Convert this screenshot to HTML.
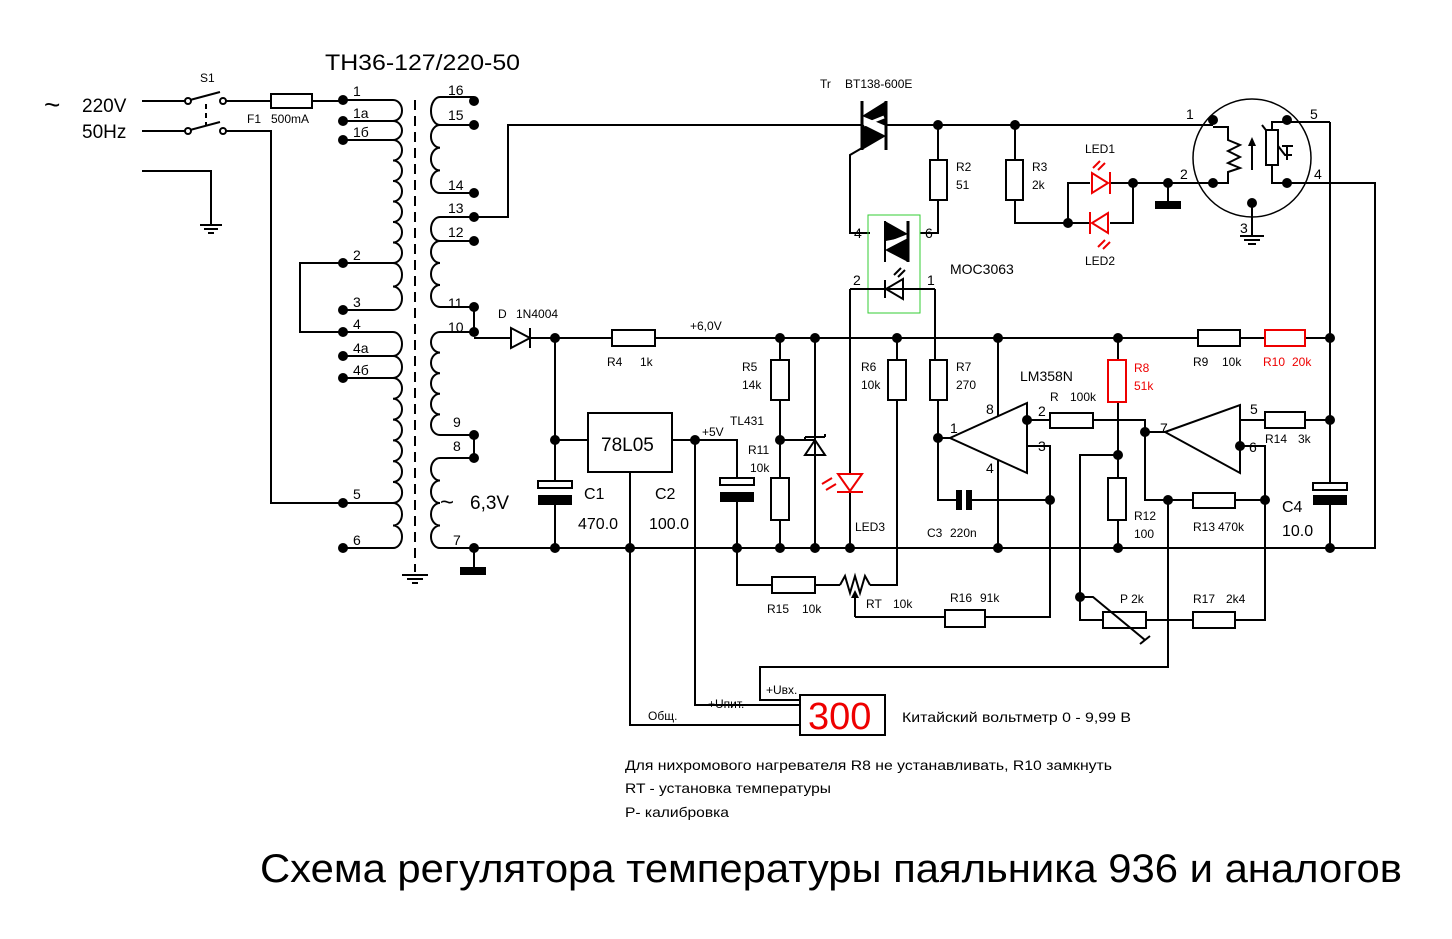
<!DOCTYPE html>
<html><head><meta charset="utf-8"><style>
html,body{margin:0;padding:0;background:#fff;}
svg{display:block;font-family:"Liberation Sans","Noto Sans CJK SC",sans-serif;}
.w{stroke:#000;stroke-width:2;fill:none}
.r{stroke:#000;stroke-width:2;fill:#fff}
.rr{stroke:#e00;stroke-width:2;fill:#fff}
.s{font-size:12px}
.m{font-size:14px}
.red{fill:#e00}
</style></head><body>
<svg width="1452" height="939" viewBox="0 0 1452 939" xmlns="http://www.w3.org/2000/svg">
<rect width="1452" height="939" fill="#fff"/>
<text x="325" y="70" font-size="22" textLength="195" lengthAdjust="spacingAndGlyphs">TH36-127/220-50</text>
<text x="44" y="114" font-size="28">~</text>
<text x="82" y="112" font-size="19">220V</text>
<text x="82" y="138" font-size="19">50Hz</text>
<text x="200" y="82" class="s">S1</text>
<path class="w" d="M142,101H185 M142,131H185 M226,101H271 M312,101H343 M226,131H271V503H343"/>
<circle cx="188" cy="101" r="3" class="r"/><circle cx="223" cy="101" r="3" class="r"/>
<circle cx="188" cy="131" r="3" class="r"/><circle cx="223" cy="131" r="3" class="r"/>
<path class="w" d="M190,100L220,92 M190,130L220,122"/>
<path d="M206,104V126" stroke="#000" stroke-width="2" stroke-dasharray="5,4"/>
<rect x="271" y="94" width="41" height="14" class="r"/>
<text x="247" y="123" class="s">F1</text><text x="271" y="123" class="s">500mA</text>
<path class="w" d="M142,171H211V225"/>
<path class="w" d="M200,225H222 M204,229H218 M208,233H214"/>
<path d="M415,100V572" stroke="#000" stroke-width="2" stroke-dasharray="10,6"/>
<path class="w" d="M402,575H428 M407,579H423 M412,583H418"/>
<path class="w" d="M343,100H393 M343,121H393 M343,140H393 M343,263H393 M343,310H393 M343,332H393 M343,356H393 M343,378H393 M343,503H393 M343,548H393"/>
<path class="w" d="M393,100a9,10.5 0 0 1 0,21 a9,9.5 0 0 1 0,19
a9,10.25 0 0 1 0,20.5 a9,10.25 0 0 1 0,20.5 a9,10.25 0 0 1 0,20.5 a9,10.25 0 0 1 0,20.5 a9,10.25 0 0 1 0,20.5 a9,10.25 0 0 1 0,20.5
a9,11.75 0 0 1 0,23.5 a9,11.75 0 0 1 0,23.5
M393,332 a9,12 0 0 1 0,24 a9,11 0 0 1 0,22
a9,10.4 0 0 1 0,20.8 a9,10.4 0 0 1 0,20.8 a9,10.4 0 0 1 0,20.8 a9,10.4 0 0 1 0,20.8 a9,10.4 0 0 1 0,20.8 a9,10.4 0 0 1 0,21
a9,11.25 0 0 1 0,22.5 a9,11.25 0 0 1 0,22.5"/>
<path class="w" d="M440,97H474 M440,125H474 M440,193H474 M440,217H474 M440,241H474 M440,307H474 M440,332H474 M440,435H474 M440,458H474 M440,548H474"/>
<path class="w" d="M440,97a9,14 0 0 0 0,28 a9,11.3 0 0 0 0,22.7 a9,11.3 0 0 0 0,22.7 a9,11.3 0 0 0 0,22.6
M440,217 a9,12 0 0 0 0,24 a9,11 0 0 0 0,22 a9,11 0 0 0 0,22 a9,11 0 0 0 0,22
M440,332 a9,10.3 0 0 0 0,20.6 a9,10.3 0 0 0 0,20.6 a9,10.3 0 0 0 0,20.6 a9,10.3 0 0 0 0,20.6 a9,10.3 0 0 0 0,20.6
M440,458 a9,11.25 0 0 0 0,22.5 a9,11.25 0 0 0 0,22.5 a9,11.25 0 0 0 0,22.5 a9,11.25 0 0 0 0,22.5"/>
<path class="w" d="M474,307V332 M474,435V458 M474,548V568"/>
<rect x="460" y="567" width="26" height="8" fill="#000"/>
<g fill="#000">
<circle cx="343" cy="100" r="5"/><circle cx="343" cy="121" r="5"/><circle cx="343" cy="140" r="5"/><circle cx="343" cy="263" r="5"/><circle cx="343" cy="310" r="5"/><circle cx="343" cy="332" r="5"/><circle cx="343" cy="356" r="5"/><circle cx="343" cy="378" r="5"/><circle cx="343" cy="503" r="5"/><circle cx="343" cy="548" r="5"/>
<circle cx="474" cy="101" r="5"/><circle cx="474" cy="125" r="5"/><circle cx="474" cy="193" r="5"/><circle cx="474" cy="217" r="5"/><circle cx="474" cy="241" r="5"/><circle cx="474" cy="307" r="5"/><circle cx="474" cy="332" r="5"/><circle cx="474" cy="435" r="5"/><circle cx="474" cy="458" r="5"/><circle cx="474" cy="548" r="5"/>
</g>
<path class="w" d="M343,263H300V332H343"/>
<g class="m">
<text x="353" y="96">1</text><text x="353" y="118">1a</text><text x="353" y="137">1б</text><text x="353" y="260">2</text><text x="353" y="307">3</text><text x="353" y="329">4</text><text x="353" y="353">4a</text><text x="353" y="375">4б</text><text x="353" y="499">5</text><text x="353" y="545">6</text>
<text x="448" y="95">16</text><text x="448" y="120">15</text><text x="448" y="190">14</text><text x="448" y="213">13</text><text x="448" y="237">12</text><text x="448" y="308">11</text><text x="448" y="332">10</text><text x="453" y="427">9</text><text x="453" y="451">8</text><text x="453" y="545">7</text>
</g>
<text x="440" y="510" font-size="24">~</text>
<text x="470" y="509" font-size="19">6,3V</text>
<path class="w" d="M474,217H508V125H862 M886,125H1213"/>
<text x="820" y="88" class="s">Tr</text><text x="845" y="88" class="s">BT138-600E</text>
<path d="M862,101V150 M886,101V150" stroke="#000" stroke-width="3"/>
<path d="M886,101L886,126L862,116Z M862,124L862,150L886,136Z" fill="#000"/>
<path d="M864,125L884,117" stroke="#fff" stroke-width="3"/>
<path class="w" d="M862,148L850,155V233H870 M938,125V160 M938,200V233H920"/>
<rect x="930" y="160" width="17" height="40" class="r"/>
<text x="956" y="171" class="s">R2</text><text x="956" y="189" class="s">51</text>
<rect x="868" y="215" width="52" height="98" fill="none" stroke="#3c3" stroke-width="1"/>
<path d="M908,221V262" stroke="#000" stroke-width="3"/>
<path d="M885,221L908,234L885,243Z M908,238L885,250L908,262Z" fill="#000"/>
<path d="M886,242L906,238" stroke="#fff" stroke-width="2"/>
<path d="M885,221V262" stroke="#000" stroke-width="2"/>
<path class="w" d="M894,275L901,268 M898,277L905,270"/>
<path class="w" d="M850,289H935 M885,280V298"/>
<path class="w" d="M903,279L903,299L886,289Z"/>
<text x="854" y="238" class="m">4</text><text x="925" y="238" class="m">6</text>
<text x="853" y="285" class="m">2</text><text x="927" y="285" class="m">1</text>
<text x="950" y="274" font-size="14">MOC3063</text>
<path class="w" d="M474,338H510 M530,338H612 M655,338H1198 M1240,338H1265 M1305,338H1330"/>
<path class="w" d="M511,328V348L530,338Z M530,328V348"/>
<text x="498" y="318" class="s">D</text><text x="516" y="318" class="s">1N4004</text>
<rect x="612" y="330" width="43" height="16" class="r"/>
<text x="607" y="366" class="s">R4</text><text x="640" y="366" class="s">1k</text>
<text x="690" y="330" class="s">+6,0V</text>
<path class="w" d="M555,338V481 M555,505V548 M555,440H588"/>
<rect x="538" y="481" width="34" height="7" class="r"/>
<rect x="538" y="495" width="34" height="10" fill="#000"/>
<rect x="588" y="413" width="84" height="59" class="r"/>
<text x="601" y="451" font-size="19">78L05</text>
<path class="w" d="M672,440H737V478 M737,502V548 M695,440V705H800 M630,472V725H800"/>
<rect x="720" y="478" width="34" height="7" class="r"/>
<rect x="720" y="492" width="34" height="10" fill="#000"/>
<text x="702" y="436" class="s">+5V</text>
<text x="584" y="499" font-size="16">C1</text><text x="578" y="529" font-size="16">470.0</text>
<text x="655" y="499" font-size="16">C2</text><text x="649" y="529" font-size="16">100.0</text>
<path class="w" d="M474,548H1375V183H1287"/>
<path class="w" d="M780,338V360 M780,400V478 M780,520V548 M780,440H815 M815,338V548"/>
<rect x="771" y="360" width="18" height="40" class="r"/>
<rect x="771" y="478" width="18" height="42" class="r"/>
<path class="w" d="M805,455H825L815,440Z M805,437H825 M805,437V440 M825,437V434"/>
<text x="742" y="371" class="s">R5</text><text x="742" y="389" class="s">14k</text>
<text x="730" y="425" class="s">TL431</text>
<text x="748" y="454" class="s">R11</text><text x="750" y="472" class="s">10k</text>
<path class="w" d="M850,289V473 M850,492V548"/>
<path d="M838,474H862L850,491Z" fill="#fff" stroke="#e00" stroke-width="2"/>
<path d="M837,492H863" stroke="#e00" stroke-width="2"/>
<path d="M822,484L832,478 M826,490L836,484" stroke="#e00" stroke-width="2"/>
<text x="855" y="531" class="s">LED3</text>
<path class="w" d="M897,338V360 M897,400V585H870 M840,585H815 M772,585H737V548"/>
<rect x="888" y="360" width="18" height="40" class="r"/>
<text x="861" y="371" class="s">R6</text><text x="861" y="389" class="s">10k</text>
<rect x="772" y="577" width="43" height="16" class="r"/>
<path class="w" d="M840,585L845,576L850,593L855,576L860,593L865,576L870,585"/>
<path class="w" d="M855,617V593"/><path d="M851,598L855,590L859,598Z" fill="#000"/>
<path class="w" d="M855,617H945 M985,617H1050V446H1027"/>
<rect x="945" y="610" width="40" height="17" class="r"/>
<text x="767" y="613" class="s">R15</text><text x="802" y="613" class="s">10k</text>
<text x="866" y="608" class="s">RT</text><text x="893" y="608" class="s">10k</text>
<text x="950" y="602" class="s">R16</text><text x="980" y="602" class="s">91k</text>
<path class="w" d="M935,289V360 M938,400V500H958 M970,500H1050"/>
<rect x="930" y="360" width="17" height="40" class="r"/>
<rect x="956" y="490" width="6" height="20" fill="#000"/><rect x="966" y="490" width="6" height="20" fill="#000"/>
<text x="956" y="371" class="s">R7</text><text x="956" y="389" class="s">270</text>
<text x="927" y="537" class="s">C3</text><text x="950" y="537" class="s">220n</text>
<path class="w" d="M1027,403V473L950,438Z M938,438H950 M998,338V416 M998,460V548 M1027,420H1050 M1093,420H1145V500H1193 M1235,500H1265"/>
<rect x="1050" y="413" width="43" height="15" class="r"/>
<text x="1020" y="381" font-size="14">LM358N</text>
<text x="1050" y="401" class="s">R</text><text x="1070" y="401" class="s">100k</text>
<text x="986" y="414" class="m">8</text><text x="950" y="433" class="m">1</text><text x="986" y="473" class="m">4</text><text x="1038" y="416" class="m">2</text><text x="1038" y="451" class="m">3</text>
<path class="w" d="M1118,338V360 M1118,402V478 M1118,520V548 M1118,455H1080V620H1103 M1146,620H1193 M1235,620H1265V446H1240"/>
<rect x="1108" y="360" width="18" height="42" class="rr"/>
<rect x="1108" y="478" width="18" height="42" class="r"/>
<text x="1134" y="372" class="s red">R8</text><text x="1134" y="390" class="s red">51k</text>
<text x="1134" y="520" class="s">R12</text><text x="1134" y="538" class="s">100</text>
<rect x="1103" y="612" width="43" height="16" class="r"/>
<path class="w" d="M1080,597H1093L1145,640 M1140,644L1150,636"/>
<rect x="1193" y="612" width="42" height="16" class="r"/>
<text x="1120" y="603" class="s">P 2k</text>
<text x="1193" y="603" class="s">R17</text><text x="1226" y="603" class="s">2k4</text>
<path class="w" d="M1240,405V473L1165,432Z M1145,432H1165 M1240,420H1265 M1305,420H1330"/>
<rect x="1265" y="412" width="40" height="16" class="r"/>
<rect x="1193" y="493" width="42" height="15" class="r"/>
<text x="1250" y="414" class="m">5</text><text x="1249" y="452" class="m">6</text><text x="1160" y="433" class="m">7</text>
<text x="1265" y="443" class="s">R14</text><text x="1298" y="443" class="s">3k</text>
<text x="1193" y="531" class="s">R13</text><text x="1218" y="531" class="s">470k</text>
<rect x="1198" y="330" width="42" height="16" class="r"/>
<rect x="1265" y="330" width="40" height="16" class="rr"/>
<text x="1193" y="366" class="s">R9</text><text x="1222" y="366" class="s">10k</text>
<text x="1263" y="366" class="s red">R10</text><text x="1292" y="366" class="s red">20k</text>
<path class="w" d="M1330,122V483 M1330,505V548 M1287,122H1330"/>
<rect x="1313" y="483" width="34" height="7" class="r"/>
<rect x="1313" y="495" width="34" height="10" fill="#000"/>
<text x="1282" y="512" font-size="16">C4</text><text x="1282" y="536" font-size="16">10.0</text>
<path class="w" d="M1168,500V667H760V700H800"/>
<rect x="800" y="695" width="85" height="40" class="r"/>
<text x="808" y="729" font-size="38" class="red">300</text>
<text x="766" y="694" class="s">+Uвх.</text>
<text x="708" y="708" class="s">+Uпит.</text>
<text x="648" y="720" class="s">Общ.</text>
<text x="902" y="722" font-size="14" textLength="229" lengthAdjust="spacingAndGlyphs">Китайский вольтметр 0 - 9,99 В</text>
<path class="w" d="M1015,125V160 M1015,200V223H1090 M1110,223H1133V183 M1068,223V183H1090 M1110,183H1213 M1168,183V201"/>
<rect x="1006" y="160" width="17" height="40" class="r"/>
<text x="1032" y="171" class="s">R3</text><text x="1032" y="189" class="s">2k</text>
<rect x="1155" y="201" width="26" height="8" fill="#000"/>
<path d="M1092,173V193L1108,183Z M1110,172V194" stroke="#e00" stroke-width="2" fill="#fff"/>
<path d="M1108,213V233L1092,223Z M1090,212V234" stroke="#e00" stroke-width="2" fill="#fff"/>
<path d="M1093,168L1100,161 M1098,170L1105,163 M1098,247L1105,240 M1103,249L1110,242" stroke="#e00" stroke-width="2"/>
<text x="1085" y="153" class="s">LED1</text><text x="1085" y="265" class="s">LED2</text>
<circle cx="1252" cy="158" r="59" fill="none" stroke="#000" stroke-width="1.5"/>
<path class="w" d="M1213,127H1228V140L1240,145L1228,151L1240,157L1228,163L1240,168L1228,172V183H1213"/>
<path class="w" d="M1252,170V142"/><path d="M1248,146L1252,137L1256,146Z" fill="#000"/>
<path class="w" d="M1287,122H1272V130 M1272,165V183H1287 M1262,125L1285,155H1292"/>
<rect x="1266" y="130" width="12" height="35" class="r"/>
<path class="w" d="M1282,146H1293 M1287,146V160"/>
<path class="w" d="M1252,203V236 M1240,236H1264 M1244,240H1260 M1248,244H1256"/>
<g fill="#000">
<circle cx="1213" cy="120" r="5"/><circle cx="1213" cy="183" r="5"/><circle cx="1287" cy="120" r="5"/><circle cx="1287" cy="183" r="5"/><circle cx="1252" cy="203" r="5"/>
</g>
<text x="1186" y="119" class="m">1</text><text x="1180" y="179" class="m">2</text><text x="1240" y="233" class="m">3</text><text x="1310" y="119" class="m">5</text><text x="1314" y="179" class="m">4</text>
<g fill="#000">
<circle cx="938" cy="125" r="5"/><circle cx="1015" cy="125" r="5"/>
<circle cx="1068" cy="223" r="5"/><circle cx="1133" cy="183" r="5"/><circle cx="1168" cy="183" r="5"/>
<circle cx="555" cy="338" r="5"/><circle cx="780" cy="338" r="5"/><circle cx="815" cy="338" r="5"/><circle cx="897" cy="338" r="5"/><circle cx="998" cy="338" r="5"/><circle cx="1118" cy="338" r="5"/><circle cx="1330" cy="338" r="5"/>
<circle cx="555" cy="440" r="5"/><circle cx="695" cy="440" r="5"/><circle cx="780" cy="440" r="5"/><circle cx="938" cy="438" r="5"/>
<circle cx="1027" cy="420" r="5"/><circle cx="1145" cy="432" r="5"/><circle cx="1240" cy="446" r="5"/><circle cx="1330" cy="420" r="5"/>
<circle cx="1118" cy="455" r="5"/><circle cx="1050" cy="500" r="5"/><circle cx="1168" cy="500" r="5"/><circle cx="1265" cy="500" r="5"/><circle cx="1080" cy="597" r="5"/>
<circle cx="555" cy="548" r="5"/><circle cx="630" cy="548" r="5"/><circle cx="737" cy="548" r="5"/><circle cx="780" cy="548" r="5"/><circle cx="815" cy="548" r="5"/><circle cx="850" cy="548" r="5"/><circle cx="998" cy="548" r="5"/><circle cx="1118" cy="548" r="5"/><circle cx="1330" cy="548" r="5"/>
</g>
<text x="625" y="770" font-size="14" textLength="487" lengthAdjust="spacingAndGlyphs">Для нихромового нагревателя R8 не устанавливать, R10 замкнуть</text>
<text x="625" y="793" font-size="14" textLength="206" lengthAdjust="spacingAndGlyphs">RT - установка температуры</text>
<text x="625" y="817" font-size="14" textLength="104" lengthAdjust="spacingAndGlyphs">P- калибровка</text>
<text x="260" y="882" font-size="40" textLength="1142" lengthAdjust="spacingAndGlyphs">Схема регулятора температуры паяльника 936 и аналогов</text>
</svg>
</body></html>
